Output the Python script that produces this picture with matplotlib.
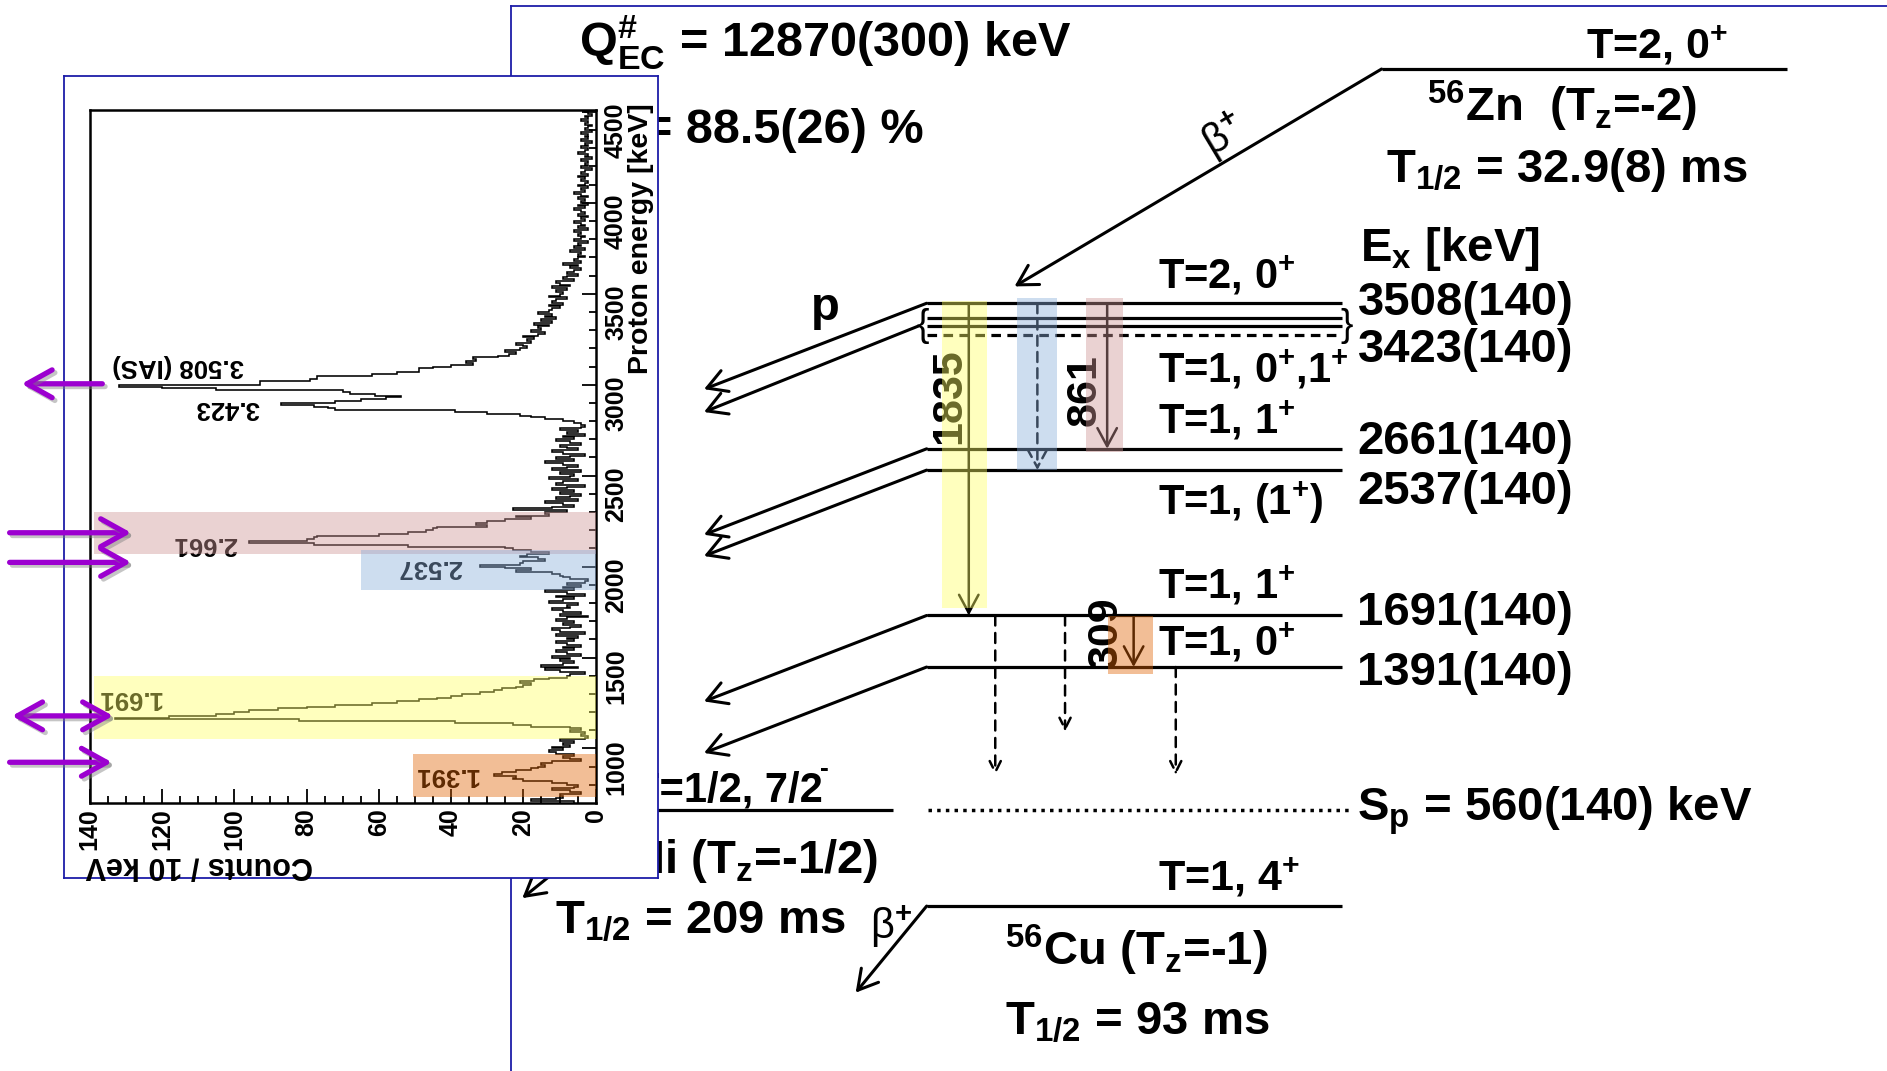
import numpy as np
import matplotlib.pyplot as plt
import matplotlib.patheffects as pe
import matplotlib.transforms as mtransforms
from matplotlib.patches import Rectangle, FancyArrowPatch, ArrowStyle
from matplotlib.ticker import MultipleLocator

plt.rcParams['font.family'] = ['Liberation Sans', 'DejaVu Sans']
plt.rcParams['font.weight'] = 'bold'
plt.rcParams['mathtext.fontset'] = 'custom'
for k in ('rm', 'it', 'bf', 'sf'):
    plt.rcParams['mathtext.' + k] = 'Liberation Sans:bold'

# ---------------- data ----------------
# proton spectrum, counts per 10 keV bin, first bin starts at 700 keV
e_first = 700
bin_width = 10
counts = [
    6, 18, 11, 9, 10, 4, 7, 12, 6, 5,             # 700
    8, 12, 20, 23, 22, 28, 26, 22, 18, 16,        # 800
    14, 15, 12, 4, 7, 9, 6, 11, 13, 9,            # 900
    12, 7, 9, 6, 10, 3, 2, 4, 3, 7,               # 1000
    4, 7, 18, 23, 39, 82, 133, 118, 105, 100,     # 1100
    96, 88, 80, 72, 62, 55, 49, 44, 40, 37,       # 1200
    32, 28, 26, 22, 20, 18, 21, 17, 13, 8,        # 1300
    7, 3, 10, 14, 5, 15, 9, 6, 10, 7,             # 1400
    12, 4, 8, 11, 6, 9, 4, 8, 11, 6,              # 1500
    8, 5, 11, 3, 10, 12, 7, 4, 9, 6,              # 1600
    11, 8, 2, 10, 4, 9, 12, 7, 8, 5,              # 1700
    13, 9, 6, 11, 3, 8, 14, 6, 9, 4,              # 1800
    8, 3, 2, 7, 9, 10, 12, 22, 18, 25,            # 1900
    32, 21, 20, 14, 16, 21, 19, 13, 18, 23,       # 2000
    25, 52, 78, 96, 80, 78, 77, 60, 52, 47,       # 2100
    45, 44, 30, 33, 30, 25, 18, 22, 13, 14,       # 2200
    8, 23, 12, 6, 9, 14, 5, 11, 7, 4,             # 2300
    10, 6, 12, 8, 3, 11, 9, 5, 13, 7,             # 2400
    6, 10, 4, 12, 8, 5, 9, 14, 6, 11,             # 2500
    7, 3, 9, 12, 5, 8, 10, 4, 7, 11,              # 2600
    6, 9, 3, 8, 5, 10, 4, 3, 4, 6,                # 2700
    9, 14, 18, 21, 30, 39, 72, 74, 78, 87,        # 2800
    72, 65, 58, 54, 61, 68, 70, 105, 120, 132,    # 2900
    93, 93, 79, 77, 77, 62, 55, 49, 49, 45,       # 3000
    40, 34, 36, 33, 34, 27, 24, 22, 25, 21,       # 3100
    19, 20, 22, 18, 19, 17, 20, 16, 14, 18,       # 3200
    15, 16, 13, 17, 12, 15, 11, 14, 12, 16,       # 3300
    13, 12, 10, 13, 9, 12, 11, 8, 13, 10,         # 3400
    9, 11, 8, 12, 7, 10, 11, 6, 9, 8,             # 3500
    5, 8, 6, 4, 7, 5, 9, 4, 6, 5,                 # 3600
    3, 5, 4, 7, 3, 6, 4, 5, 2, 6,                 # 3700
    4, 3, 5, 4, 6, 2, 5, 3, 4, 6,                 # 3800
    3, 4, 2, 5, 3, 4, 6, 3, 5, 2,                 # 3900
    4, 3, 5, 2, 4, 6, 3, 4, 2, 5,                 # 4000
    3, 2, 4, 3, 5, 2, 4, 3, 1, 4,                 # 4100
    2, 3, 2, 4, 1, 3, 2, 5, 3, 2,                 # 4200
    4, 2, 3, 1, 4, 2, 3, 2, 4, 1,                 # 4300
    3, 2, 1, 3, 2, 4, 2, 3, 1, 2,                 # 4400
    3,                                            # 4500
]

# highlighted peaks in the spectrum (energy range, count extent, label)
peak_names = ['2.661', '2.537', '1.691', '1.391']
peak_e_lo = [2067, 1871, 1050, 733]
peak_e_hi = [2301, 2090, 1400, 972]
peak_cnt_max = [138.7, 65, 138.7, 50.6]
peak_label_e = [2122, 1996, 1278, 852]
peak_label_cnt = [108, 46, 129, 41.5]
peak_colors = ['#cd9494', '#8aaedb', '#ffff64', '#e06405']

other_names = ['3.508 (IAS)', '3.423']
other_label_e = [3105, 2872]
other_label_cnt = [115.5, 102]

# energies marked by purple arrows [keV], arrow kind
mark_e = [3005, 2186, 2023, 1179, 924]
mark_kind = ['<-', '->', '->', '<->', '->']

# level scheme of 56Cu
level_e = [3508, 3423, 2661, 2537, 1691, 1391]
level_err = 140
level_spin = [r'T=2, 0$^{+}$', r'T=1, 0$^{+}$,1$^{+}$', r'T=1, 1$^{+}$',
              r'T=1, (1$^{+}$)', r'T=1, 1$^{+}$', r'T=1, 0$^{+}$']
s_p, s_p_err = 560, 140
gamma_from = [3508, 3508, 3508, 1691]
gamma_to = [1691, 2537, 2661, 1391]
gamma_text = ['1835', '', '861', '309']
q_ec = '12870(300)'
b_p = '88.5(26)'

# ---------------- layout ----------------
W, H = 1568, 890                 # layout units
BLUE = '#1c1ca8'
PURPLE = '#9c00d0'
E_REF, Y_REF, PX_KEV = 3508, 252, 0.1428   # vertical energy scale of the scheme
E_TOP = E_REF + Y_REF / PX_KEV
E_BOT = E_REF - (H - Y_REF) / PX_KEV
LV_X0, LV_X1 = 770, 1115
P_TIP_X, P_DROP = 585, 500
ZN_E = 4871

fig = plt.figure(figsize=(18.87, 10.71), dpi=100)


def full_axes(z):
    a = fig.add_axes([0, 0, 1, 1])
    a.set_zorder(z)
    a.set_facecolor('none')
    a.axis('off')
    return a


def px_axes(x0, y0, x1, y1, z):
    a = fig.add_axes([x0 / W, 1 - y1 / H, (x1 - x0) / W, (y1 - y0) / H])
    a.set_zorder(z)
    return a


def arrow(a, p0, p1, ls='-', lw=2.0, hl=13, hw=7, color='k', **kw):
    ar = FancyArrowPatch(p0, p1, arrowstyle=ArrowStyle('->', head_length=hl, head_width=hw),
                         mutation_scale=1, lw=lw, color=color, linestyle=ls,
                         shrinkA=0, shrinkB=0, **kw)
    a.add_patch(ar)
    return ar


ax = full_axes(0)
ax.set_xlim(0, W)
ax.set_ylim(H, 0)
ax_lv = full_axes(1)
ax_lv.set_xlim(0, W)
ax_lv.set_ylim(E_BOT, E_TOP)


def put(x, y, s, size=34, **kw):
    kw.setdefault('ha', 'left')
    kw.setdefault('va', 'baseline')
    return ax.text(x, y, s, fontsize=size, **kw)


# big frame
ax.plot([425, 425], [5, H], color=BLUE, lw=1.3)
ax.plot([425, W], [5, 5], color=BLUE, lw=1.3)

# texts of the scheme
put(481, 47, r'Q$^{\#}_{\mathrm{EC}}$ = %s keV' % q_ec, 35)
put(535, 119, '= %s %%' % b_p, 35)
put(1318, 49, r'T=2, 0$^{+}$', 31)
put(1186, 101, r'$^{56}$Zn  (T$_{z}$=-2)', 34)
put(1152, 151, r'T$_{1/2}$ = 32.9(8) ms', 34)
put(1130, 217, r'E$_{x}$ [keV]', 34)
for E, yb in zip(level_e, [262, 301, 377, 419, 519, 569]):
    put(1128, yb, f'{E}({level_err})', 34)
for s, yb in zip(level_spin, [240, 318, 360, 428, 497, 545]):
    put(962, yb, s, 30)
put(1128, 682, r'S$_{p}$ = %d(%d) keV' % (s_p, s_p_err), 34)
put(527, 666, 'T=1/2, 7/2', 30)
put(681, 645, '-', 19)
put(492, 727, r'$^{55}$Ni (T$_{z}$=-1/2)', 34)
put(461, 776, r'T$_{1/2}$ = 209 ms', 34)
put(962, 740, r'T=1, 4$^{+}$', 31)
put(835, 802, r'$^{56}$Cu (T$_{z}$=-1)', 34)
put(835, 860, r'T$_{1/2}$ = 93 ms', 34)
put(674, 266, 'p', 34)
put(723, 780, r'β$^{+}$', 30, fontweight='normal')
ax.text(1017, 113, r'β$^{+}$', fontsize=30, fontweight='normal', rotation=31,
        ha='center', va='center')
ax.text(767, 271, '{', fontsize=27, fontweight='normal', ha='center', va='center')
ax.text(1119, 271, '}', fontsize=27, fontweight='normal', ha='center', va='center')
for s, (gx, gy) in zip(gamma_text, [(789, 329), (0, 0), (901, 324), (919, 526)]):
    if s:
        ax.text(gx, gy, s, fontsize=31, rotation=90, ha='center', va='center')

# levels
lv = dict(color='k', lw=2.3, solid_capstyle='butt')
for E in level_e:
    ax_lv.plot([LV_X0, LV_X1], [E, E], **lv)
ax_lv.plot([LV_X0, LV_X1], [3375, 3375], **lv)
ax_lv.plot([LV_X0, LV_X1], [3325, 3325], ls=(0, (3, 2)), color='k', lw=2.3)
ax_lv.plot([771, 1121], [s_p, s_p], ls=(0, (1, 1.5)), color='k', lw=2.5)
ax_lv.plot([525, 742], [s_p, s_p], **lv)
ax_lv.plot([LV_X0, LV_X1], [0, 0], **lv)
ax_lv.plot([1148, 1485], [ZN_E, ZN_E], **lv)

# proton branches
for E in level_e:
    if E == 3423:
        arrow(ax_lv, (763, 3375), (P_TIP_X, 3375 - P_DROP), lw=2.2, hl=14, hw=8)
    else:
        arrow(ax_lv, (LV_X0, E), (P_TIP_X, E - P_DROP), lw=2.2, hl=14, hw=8)

# beta branches
arrow(ax_lv, (1148, ZN_E), (843, 3606), lw=2.2, hl=14, hw=8)
arrow(ax_lv, (LV_X0, 0), (711, -504), lw=2.2, hl=14, hw=8)
arrow(ax_lv, (525, s_p), (434, 46), lw=2.2, hl=14, hw=8)

# gamma transitions and their colour bands
gam_x = [805, 862, 920, 942]
gam_ls = ['-', (0, (4, 2.5)), '-', '-']
gam_col = [peak_colors[2], peak_colors[1], peak_colors[0], peak_colors[3]]
gam_band_x = [(783, 820), (845, 878), (902, 933), (921, 958)]
gam_band_e = [(1736, 3522), (2535, 3536), (2640, 3536), (1349, 1687)]
for i in range(len(gamma_from)):
    arrow(ax_lv, (gam_x[i], gamma_from[i]), (gam_x[i], gamma_to[i]), ls=gam_ls[i], lw=1.8,
          hl=13, hw=7)
    (bx0, bx1), (be0, be1) = gam_band_x[i], gam_band_e[i]
    ax_lv.add_patch(Rectangle((bx0, be0), bx1 - bx0, be1 - be0, facecolor=gam_col[i],
                              alpha=0.42, lw=0, zorder=5))
for gx, e0, e1 in [(827, 1691, 763), (885, 1691, 1015), (977, 1391, 763)]:
    arrow(ax_lv, (gx, e0), (gx, e1), ls=(0, (4, 3)), lw=1.8, hl=8, hw=4)

# ---------------- inset spectrum ----------------
ax_bg = px_axes(53, 63, 547, 730, 5)
ax_bg.set_xticks([])
ax_bg.set_yticks([])
for sp in ax_bg.spines.values():
    sp.set_color(BLUE)
    sp.set_linewidth(1.3)

ax_h = px_axes(74.5, 91, 495, 667, 6)
ax_h.set_facecolor('none')
edges = e_first + bin_width * np.arange(len(counts) + 1)
ax_h.stairs(counts, edges, orientation='horizontal', baseline=None, color='k', lw=1.15,
            zorder=2)
for i in range(len(peak_names)):
    ax_h.add_patch(Rectangle((0, peak_e_lo[i]), peak_cnt_max[i], peak_e_hi[i] - peak_e_lo[i],
                             facecolor=peak_colors[i], alpha=0.42, lw=0, zorder=3))
    ax_h.text(peak_label_cnt[i], peak_label_e[i], peak_names[i], rotation=180, ha='center',
              va='center', fontsize=18.5, fontweight='bold', zorder=2)
for s, c, e in zip(other_names, other_label_cnt, other_label_e):
    ax_h.text(c, e, s, rotation=180, ha='center', va='center', fontsize=18.5,
              fontweight='bold', zorder=2)

ax_h.set_xlim(140, 0)
ax_h.set_ylim(702, 4513)
ax_h.xaxis.set_major_locator(MultipleLocator(20))
ax_h.xaxis.set_minor_locator(MultipleLocator(5))
ax_h.yaxis.set_major_locator(MultipleLocator(500))
ax_h.yaxis.set_minor_locator(MultipleLocator(100))
ax_h.tick_params(axis='x', which='both', direction='in', top=False, bottom=True,
                 labelrotation=90, labelsize=18, pad=4)
ax_h.tick_params(axis='y', which='both', direction='in', left=False, right=True,
                 labelleft=False, labelright=True, labelrotation=90, labelsize=18, pad=6)
ax_h.tick_params(which='major', length=10, width=1.3)
ax_h.tick_params(which='minor', length=5, width=1.3)
for lab in ax_h.get_xticklabels() + ax_h.get_yticklabels():
    lab.set_fontweight('bold')
for sp in ax_h.spines.values():
    sp.set_linewidth(1.8)

# ---------------- overlay ----------------
ax_top = full_axes(7)
ax_top.set_xlim(0, W)
ax_top.set_ylim(H, 0)
ax_top.text(166, 719, 'Counts / 10 keV', rotation=180, ha='center', va='center',
            fontsize=22, fontweight='bold')
ax_top.text(533, 198, 'Proton energy [keV]', rotation=90, ha='center', va='center',
            fontsize=20.5, fontweight='bold')

blend = mtransforms.blended_transform_factory(ax_top.transData, ax_h.transData)
shadow = [pe.SimpleLineShadow(offset=(2, -2), shadow_color='gray', alpha=0.45), pe.Normal()]
for e, kind in zip(mark_e, mark_kind):
    if kind == '<-':
        p0, p1 = (85, e), (18, e)
    elif kind == '<->':
        p0, p1 = (10, e), (94, e)
    else:
        p0, p1 = (8, e), (109 if e > 2000 else 93, e)
    ar = FancyArrowPatch(p0, p1, arrowstyle=ArrowStyle(kind if kind == '<->' else '->',
                                                       head_length=18, head_width=10),
                         mutation_scale=1, lw=3.8, color=PURPLE, shrinkA=0, shrinkB=0,
                         transform=blend, clip_on=False, path_effects=shadow)
    ax_top.add_patch(ar)

fig.savefig('out.png', dpi=100)
